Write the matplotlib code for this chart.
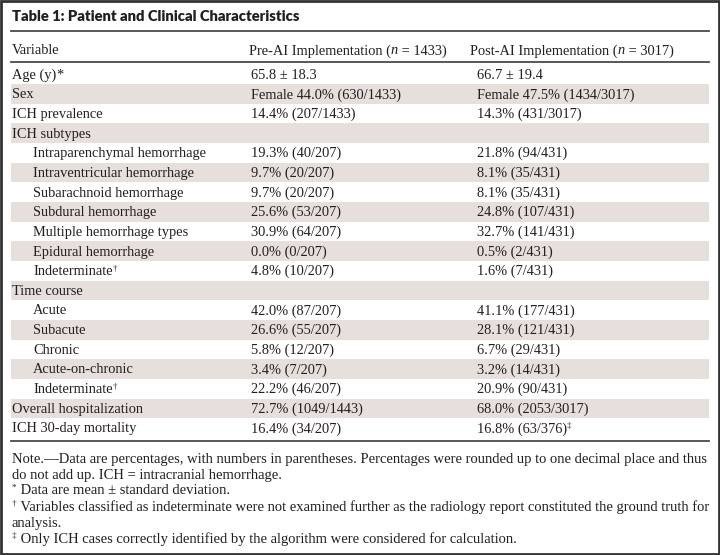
import matplotlib
matplotlib.use("Agg")
import matplotlib.pyplot as plt
from matplotlib.patches import Rectangle

W, H = 720, 555

title = "Table 1: Patient and Clinical Characteristics"
col_headers = [
    [("Variable", {})],
    [("Pre-AI Implementation (", {}), ("n", {"style": "italic"}), (" = 1433)", {})],
    [("Post-AI Implementation (", {}), ("n", {"style": "italic"}), (" = 3017)", {})],
]

variables = [
    "Age (y)", "Sex", "ICH prevalence", "ICH subtypes",
    "Intraparenchymal hemorrhage", "Intraventricular hemorrhage",
    "Subarachnoid hemorrhage", "Subdural hemorrhage",
    "Multiple hemorrhage types", "Epidural hemorrhage", "Indeterminate",
    "Time course", "Acute", "Subacute", "Chronic", "Acute-on-chronic",
    "Indeterminate", "Overall hospitalization", "ICH 30-day mortality",
]
var_marks = ["*", "", "", "", "", "", "", "", "", "", "†",
             "", "", "", "", "", "†", "", ""]
indented = [0, 0, 0, 0, 1, 1, 1, 1, 1, 1, 1, 0, 1, 1, 1, 1, 1, 0, 0]

pre_ai = [
    "65.8 ± 18.3", "Female 44.0% (630/1433)", "14.4% (207/1433)", "",
    "19.3% (40/207)", "9.7% (20/207)", "9.7% (20/207)", "25.6% (53/207)",
    "30.9% (64/207)", "0.0% (0/207)", "4.8% (10/207)", "",
    "42.0% (87/207)", "26.6% (55/207)", "5.8% (12/207)", "3.4% (7/207)",
    "22.2% (46/207)", "72.7% (1049/1443)", "16.4% (34/207)",
]
post_ai = [
    "66.7 ± 19.4", "Female 47.5% (1434/3017)", "14.3% (431/3017)", "",
    "21.8% (94/431)", "8.1% (35/431)", "8.1% (35/431)", "24.8% (107/431)",
    "32.7% (141/431)", "0.5% (2/431)", "1.6% (7/431)", "",
    "41.1% (177/431)", "28.1% (121/431)", "6.7% (29/431)", "3.2% (14/431)",
    "20.9% (90/431)", "68.0% (2053/3017)", "16.8% (63/376)",
]
post_marks = [""] * 18 + ["‡"]

notes = [
    ("", "Note.—Data are percentages, with numbers in parentheses. Percentages were rounded up to one decimal place and thus"),
    ("", "do not add up. ICH = intracranial hemorrhage."),
    ("*", " Data are mean ± standard deviation."),
    ("†", " Variables classified as indeterminate were not examined further as the radiology report constituted the ground truth for"),
    ("", "analysis."),
    ("‡", " Only ICH cases correctly identified by the algorithm were considered for calculation."),
]

SERIF = "Liberation Serif"
TXT = "#231f20"
SHADE = "#e7dfdc"
RULE = "#4a4a4a"
FS = 10.4
FS_NOTE = 10.55

fig = plt.figure(figsize=(W / 100, H / 100), dpi=100)
ax = fig.add_axes([0, 0, 1, 1])
ax.set_xlim(0, W)
ax.set_ylim(H, 0)
ax.axis("off")
renderer = fig.canvas.get_renderer()


def runs(x, y, parts, size=FS):
    # draw text pieces one after another on the same baseline
    for txt, style in parts:
        sup = style.get("sup", False)
        kw = {k: v for k, v in style.items() if k != "sup"}
        fs = size * 0.62 if sup else size
        yy = y - size * 0.42 if sup else y
        t = ax.text(x, yy, txt, fontsize=fs, family=SERIF, color=TXT,
                    va="baseline", ha="left", **kw)
        bb = t.get_window_extent(renderer)
        x += bb.width
    return x


ax.text(12, 16.5, title, fontsize=10.6, family="Lato", weight="heavy",
        color="#231f20", va="center", ha="left")

ax.plot([11, 709], [31, 31], color=RULE, lw=1.3)
ax.plot([11, 709], [62, 62], color=RULE, lw=1.3)
ax.plot([11, 709], [441, 441], color=RULE, lw=1.3)

col_x = [12, 249, 470]
for cx, parts in zip(col_x, col_headers):
    runs(cx, 54.5, parts)

top0, step = 64.5, 19.65
for i, name in enumerate(variables):
    y0 = top0 + i * step
    if i % 2 == 1:
        ax.add_patch(Rectangle((11, y0), 698, step, color=SHADE, lw=0, zorder=0))
    base = y0 + 14.2
    parts = [(name, {})]
    if var_marks[i] == "*":
        parts.append(("*", {}))
    elif var_marks[i]:
        parts.append((var_marks[i], {"sup": True}))
    runs(12 + 21 * indented[i], base, parts)
    if pre_ai[i]:
        runs(251, base, [(pre_ai[i], {})])
    if post_ai[i]:
        parts = [(post_ai[i], {})]
        if post_marks[i]:
            parts.append((post_marks[i], {"sup": True}))
        runs(477, base, parts)

for j, (mark, line) in enumerate(notes):
    base = 462.5 + j * 16
    parts = []
    if mark:
        parts.append((mark, {"sup": True}))
    parts.append((line, {}))
    runs(12, base, parts, size=FS_NOTE)

ax.add_patch(Rectangle((1, 1), W - 2, H - 2, fill=False, ec="#333333", lw=2))

fig.savefig("out.png", dpi=100)
